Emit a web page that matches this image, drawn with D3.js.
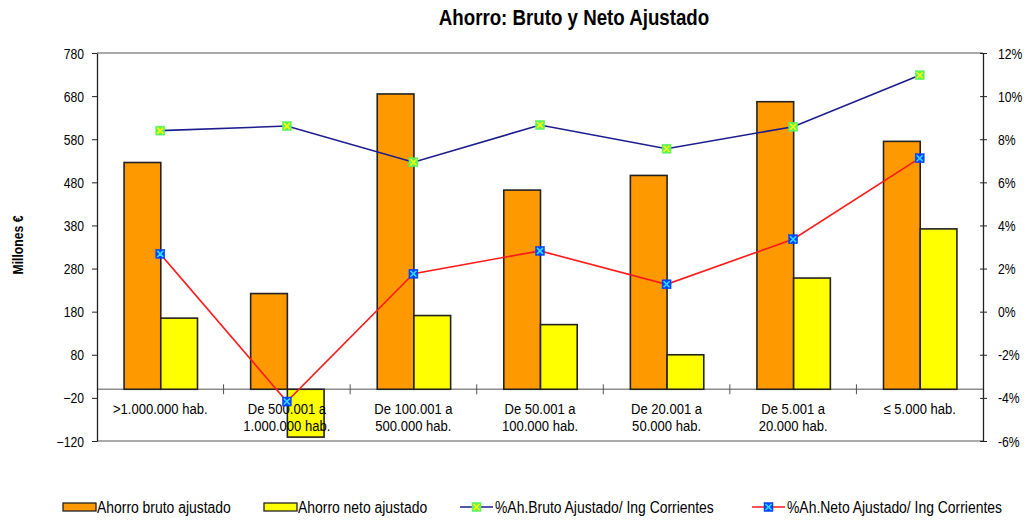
<!DOCTYPE html>
<html><head><meta charset="utf-8">
<script src="https://cdn.jsdelivr.net/npm/d3@7"></script>
<style>
body{margin:0;background:#fff}
svg{display:block}
text{font-family:"Liberation Sans",Arial,Helvetica,sans-serif;fill:#000}
</style>
</head><body>
<svg id="c" width="1033" height="520"></svg>
<script>
// ---- data ----
const categories = [
  [">1.000.000 hab."],
  ["De 500.001 a", "1.000.000 hab."],
  ["De 100.001 a", "500.000 hab."],
  ["De 50.001 a", "100.000 hab."],
  ["De 20.001 a", "50.000 hab."],
  ["De 5.001 a", "20.000 hab."],
  ["\u2264 5.000 hab."]
];
const ahorroBruto = [526, 222, 685, 462, 496, 667, 575];
const ahorroNeto = [165, -111, 171, 150, 80, 258, 372];
const pctBruto = [8.40, 8.61, 6.93, 8.66, 7.56, 8.58, 10.97];
const pctNeto = [2.68, -4.17, 1.76, 2.82, 1.27, 3.36, 7.12];
const leftTicks = [-120, -20, 80, 180, 280, 380, 480, 580, 680, 780];
const rightTicks = [-6, -4, -2, 0, 2, 4, 6, 8, 10, 12];
const seriesNames = ["Ahorro bruto ajustado", "Ahorro neto ajustado",
  "%Ah.Bruto Ajustado/ Ing Corrientes", "%Ah.Neto Ajustado/ Ing Corrientes"];
const titleText = "Ahorro: Bruto y Neto Ajustado";
const yTitle = "Millones \u20ac";

// ---- layout ----
const SX = 0.87;
const L = 97, R = 983, T = 53, B = 441;
const svg = d3.select("#c");

const x = d3.scaleBand().domain(d3.range(categories.length)).range([L, R]).padding(0);
const yL = d3.scaleLinear().domain([-120, 780]).range([B, T]);
const yR = d3.scaleLinear().domain([-6, 12]).range([B, T]);
const bw = x.bandwidth() * 0.29;
const cx = i => x(i) + x.bandwidth() / 2;

function sqText(g, str, px, py, size, anchor, weight) {
  return g.append("text")
    .attr("transform", `translate(${px},${py}) scale(${SX},1)`)
    .attr("text-anchor", anchor || "start")
    .style("font-size", size + "px")
    .style("font-weight", weight || "normal")
    .text(str);
}

// title
sqText(svg, titleText, 574, 25, 21.5, "middle", "bold");

// y title
svg.append("text")
  .attr("transform", `translate(23,245) rotate(-90) scale(${SX},1)`)
  .attr("text-anchor", "middle")
  .style("font-size", "14px").style("font-weight", "bold")
  .text(yTitle);

// plot frame top/bottom
svg.append("line").attr("x1", L).attr("x2", R).attr("y1", T).attr("y2", T)
  .attr("stroke", "#8c8c8c").attr("stroke-width", 1.5);
svg.append("line").attr("x1", L).attr("x2", R).attr("y1", B).attr("y2", B)
  .attr("stroke", "#8c8c8c").attr("stroke-width", 1.5);

// category axis at zero
const y0 = yL(0);
svg.append("line").attr("x1", L).attr("x2", R).attr("y1", y0).attr("y2", y0)
  .attr("stroke", "#8c8c8c").attr("stroke-width", 1.5);
svg.selectAll("line.ctick").data(d3.range(1, categories.length)).join("line")
  .attr("class", "ctick")
  .attr("x1", i => x(i)).attr("x2", i => x(i))
  .attr("y1", y0 - 5).attr("y2", y0 + 5)
  .attr("stroke", "#555").attr("stroke-width", 1);

// bars
const gb = svg.append("g");
gb.selectAll("rect.b").data(ahorroBruto).join("rect").attr("class", "b")
  .attr("x", (d, i) => cx(i) - bw + 0.5).attr("width", bw)
  .attr("y", d => yL(Math.max(0, d))).attr("height", d => Math.abs(yL(d) - yL(0)))
  .attr("fill", "#ff9900").attr("stroke", "#222").attr("stroke-width", 1.6);
gb.selectAll("rect.n").data(ahorroNeto).join("rect").attr("class", "n")
  .attr("x", (d, i) => cx(i) + 0.5).attr("width", bw)
  .attr("y", d => yL(Math.max(0, d))).attr("height", d => Math.abs(yL(d) - yL(0)))
  .attr("fill", "#ffff00").attr("stroke", "#222").attr("stroke-width", 1.6);

// category labels
categories.forEach((lines, i) => {
  lines.forEach((ln, j) => sqText(svg, ln, cx(i), 414 + j * 17, 15, "middle"));
});

// lines
function marker(g, px, py, fill, xcol) {
  const s = 4.5;
  g.append("rect").attr("x", px - s).attr("y", py - s).attr("width", 2 * s).attr("height", 2 * s)
    .attr("fill", fill).attr("stroke", fill).attr("stroke-width", 0.5);
  g.append("path").attr("d", `M${px - s + 1.5},${py - s + 1.5}L${px + s - 1.5},${py + s - 1.5}M${px + s - 1.5},${py - s + 1.5}L${px - s + 1.5},${py + s - 1.5}`)
    .attr("stroke", xcol).attr("stroke-width", 1.6);
}
const line = d3.line().x((d, i) => cx(i)).y(d => yR(d));
svg.append("path").datum(pctBruto).attr("d", line).attr("fill", "none")
  .attr("stroke", "#1c1c8e").attr("stroke-width", 1.6);
svg.append("path").datum(pctNeto).attr("d", line).attr("fill", "none")
  .attr("stroke", "#ff1a1a").attr("stroke-width", 1.6);
const gm = svg.append("g");
pctBruto.forEach((d, i) => marker(gm, cx(i), yR(d), "#5cf25c", "#ffff00"));
pctNeto.forEach((d, i) => marker(gm, cx(i), yR(d), "#0044ff", "#33ddff"));

// axes
const axL = svg.append("g").attr("transform", `translate(${L},0)`)
  .call(d3.axisLeft(yL).tickValues(leftTicks).tickSizeInner(5).tickSizeOuter(0).tickFormat(d3.format("d")));
axL.select(".domain").attr("stroke", "#222").attr("stroke-width", 1.3);
axL.selectAll(".tick line").attr("stroke", "#222");
axL.selectAll(".tick text").attr("x", null).attr("dy", null)
  .attr("transform", `translate(-13,5) scale(${SX},1)`)
  .style("font-size", "14px").style("font-family", '"Liberation Sans",Arial,sans-serif').attr("fill", "#000");

const axR = svg.append("g").attr("transform", `translate(${R},0)`)
  .call(d3.axisRight(yR).tickValues(rightTicks).tickSizeInner(4).tickSizeOuter(0).tickFormat(d => d + "%"));
axR.select(".domain").attr("stroke", "#222").attr("stroke-width", 1.3);
axR.selectAll(".tick line").attr("x1", -3).attr("stroke", "#222");
axR.selectAll(".tick text").attr("x", null).attr("dy", null)
  .attr("transform", `translate(15,5) scale(${SX},1)`)
  .style("font-size", "14px").style("font-family", '"Liberation Sans",Arial,sans-serif').attr("fill", "#000");

// legend
const lg = svg.append("g");
const ly = 507;
lg.append("rect").attr("x", 63).attr("y", ly - 4).attr("width", 33).attr("height", 8)
  .attr("fill", "#ff9900").attr("stroke", "#222").attr("stroke-width", 1.3);
sqText(lg, seriesNames[0], 97, ly + 6, 16);
lg.append("rect").attr("x", 264).attr("y", ly - 4).attr("width", 33).attr("height", 8)
  .attr("fill", "#ffff00").attr("stroke", "#222").attr("stroke-width", 1.3);
sqText(lg, seriesNames[1], 298, ly + 6, 16);
lg.append("line").attr("x1", 460).attr("x2", 493).attr("y1", ly).attr("y2", ly)
  .attr("stroke", "#1c1c8e").attr("stroke-width", 1.6);
marker(lg, 476.5, ly, "#5cf25c", "#ffff00");
sqText(lg, seriesNames[2], 495, ly + 6, 16);
lg.append("line").attr("x1", 752).attr("x2", 785).attr("y1", ly).attr("y2", ly)
  .attr("stroke", "#ff1a1a").attr("stroke-width", 1.6);
marker(lg, 768.5, ly, "#0044ff", "#33ddff");
sqText(lg, seriesNames[3], 787, ly + 6, 16);
</script>
</body></html>
